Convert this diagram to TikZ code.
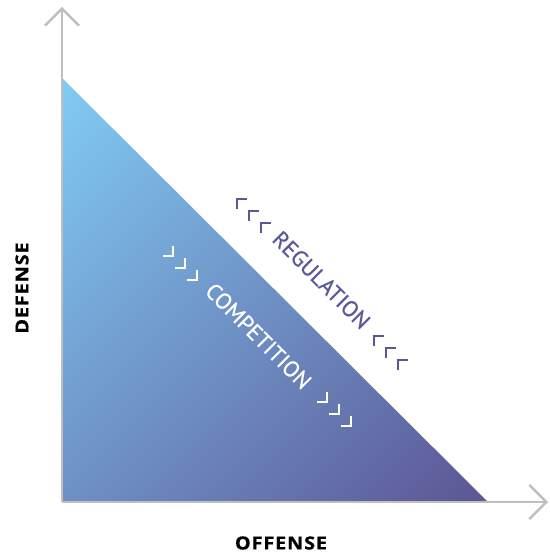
\documentclass[tikz,border=0pt]{standalone}
\usepackage{fontspec}
\setmainfont{Open Sans}
\newfontfamily\axisfont[FakeStretch=1.1, LetterSpace=5, BoldFeatures={FakeBold=0.6}]{Open Sans}
\newfontfamily\diagfont[FakeBold=0.5]{PT Sans}
\usetikzlibrary{arrows.meta}
\definecolor{tlight}{HTML}{80CCF5}
\definecolor{tdark}{HTML}{5C5594}
\definecolor{axisgray}{HTML}{BFBFBF}
\definecolor{regcol}{HTML}{5A589A}
\begin{document}
\begin{tikzpicture}[x=1pt,y=1pt,
  axisline/.style={draw=axisgray, line width=2.4pt, -{Straight Barb[length=17pt,width=34pt,line width=2.4pt]}},
  diaglabel/.style={rotate=-45, inner sep=0pt, font=\diagfont\fontsize{22.5}{26}\selectfont},
  axislabel/.style={inner sep=0pt, font=\axisfont\bfseries\fontsize{18}{21}\selectfont},
  regchev/.style={draw=regcol, line width=2.4pt, line cap=butt, line join=miter},
  compchev/.style={draw=white, line width=2.4pt, line cap=butt, line join=miter}]
\useasboundingbox (0,0) rectangle (549,554);
\fill[white] (0,0) rectangle (549,554);
\coordinate (O) at (62,52);
\coordinate (T) at (62,476);
\coordinate (R) at (488,52);
\coordinate (Ytip) at (62,547);
\coordinate (Xtip) at (548,52);
% gradient triangle
\begin{scope}
  \clip (T) -- (O) -- (R) -- cycle;
  \begin{scope}[transform canvas={rotate around={-45:(275,264)}}]
    \shade[left color=tlight, right color=tdark] (-25.5,-136) rectangle (575.5,664);
  \end{scope}
\end{scope}
% axes
\draw[axisline] (O) -- (Ytip);
\draw[axisline] (O) -- (Xtip);
% labels
\node[diaglabel, text=regcol] (reg) at (321.5,274) {REGULATION};
\node[diaglabel, text=white] (comp) at (258.5,218) {COMPETITION};
\node[axislabel, rotate=90] (def) at (22,266) {DEFENSE};
\node[axislabel] (off) at (281,11) {OFFENSE};
% chevrons
\foreach \cx/\cy in {237/355, 249/343, 261/331, 374/218, 386/206, 398/194}{
  \coordinate (c) at (\cx,\cy);
  \draw[regchev] ([xshift=10pt]c) -- (c) -- ([yshift=-10pt]c);
}
\foreach \cx/\cy in {173/298, 185/286, 197/274, 327/152, 339/140, 351/128}{
  \coordinate (c) at (\cx,\cy);
  \draw[compchev] ([xshift=-10pt]c) -- (c) -- ([yshift=10pt]c);
}
\end{tikzpicture}
\end{document}
